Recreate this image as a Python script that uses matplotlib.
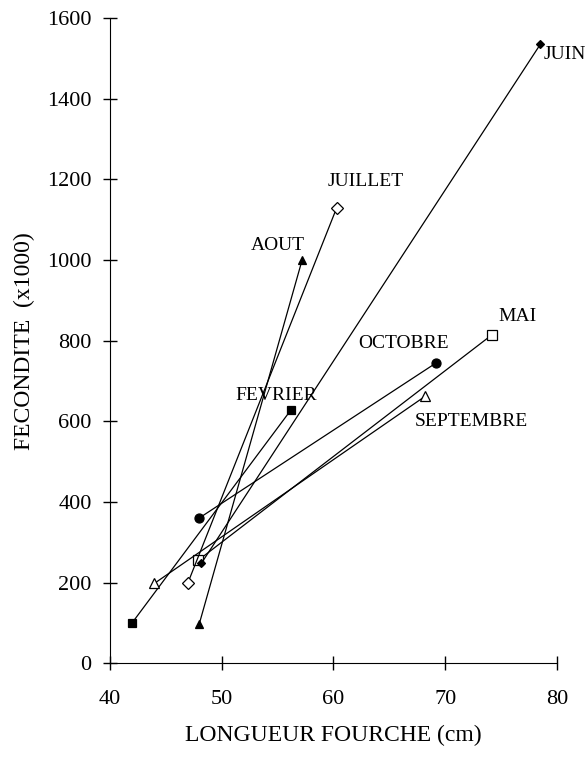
import matplotlib.pyplot as plt

months = ['FEVRIER', 'MAI', 'JUIN', 'JUILLET', 'AOUT', 'SEPTEMBRE', 'OCTOBRE']
length_start = [42.0, 47.9, 48.2, 47.0, 48.0, 44.0, 48.0]
length_end = [56.2, 74.2, 78.5, 60.3, 57.2, 68.2, 69.2]
fec_start = [100, 255, 248, 200, 97, 198, 360]
fec_end = [628, 815, 1535, 1130, 1000, 662, 745]
markers = ['s', 's', 'D', 'D', '^', '^', 'o']
filled = [True, False, True, False, True, False, True]
msizes = [6, 7, 4.5, 6, 6, 7, 6.5]
label_x = [54.9, 76.5, 78.8, 62.9, 55.0, 72.3, 66.3]
label_y = [663, 860, 1510, 1195, 1035, 600, 792]
label_ha = ['center', 'center', 'left', 'center', 'center', 'center', 'center']

plt.rcParams['font.family'] = ['Liberation Serif', 'DejaVu Serif']

fig = plt.figure(figsize=(5.87, 7.57), dpi=100)
ax = fig.add_axes([0.187, 0.124, 0.762, 0.852])

for i in range(len(months)):
    fc = 'black' if filled[i] else 'white'
    ax.plot([length_start[i], length_end[i]], [fec_start[i], fec_end[i]],
            color='black', lw=0.9, marker=markers[i], ms=msizes[i],
            mfc=fc, mec='black', mew=0.9, clip_on=False)
    ax.text(label_x[i], label_y[i], months[i], ha=label_ha[i], va='center',
            fontsize=14)

ax.set_xlim(40, 80)
ax.set_ylim(0, 1600)
ax.set_xticks([40, 50, 60, 70, 80])
ax.set_yticks(range(0, 1601, 200))
ax.spines['top'].set_visible(False)
ax.spines['right'].set_visible(False)
ax.tick_params(direction='inout', length=10, width=1, labelsize=16)
ax.tick_params(axis='x', pad=14)
ax.tick_params(axis='y', pad=8)
ax.set_xlabel('LONGUEUR FOURCHE (cm)', fontsize=17, labelpad=12)
ax.set_ylabel('FECONDITE  (x1000)', fontsize=17, labelpad=9)

fig.savefig('out.png', dpi=100)
